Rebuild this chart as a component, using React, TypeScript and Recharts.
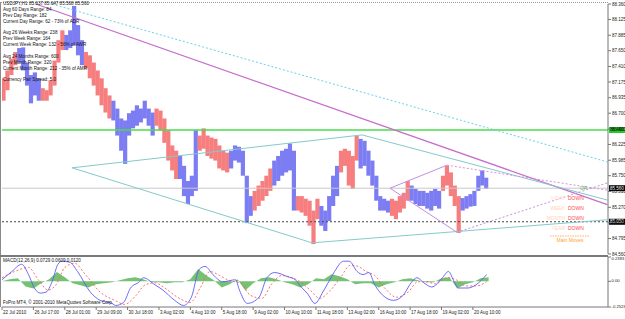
import React from "react";
import {
  Area,
  Bar,
  Cell,
  ComposedChart,
  Line,
  ReferenceLine,
  XAxis,
  YAxis,
} from "recharts";

const FONT = "'Liberation Sans', Arial, sans-serif";
const HOURS = 617.7; // H1 bars that fit across the plot
const RED = "#F67E7E";
const BLUE = "#7D7DF3";

// one column per 4 H1 bars, starting 22 Jul 2010
const barHigh = [
  87.23, 87.35, 87.53, 87.63, 87.69, 87.7, 87.47, 87.28, 87.32, 87.23,
  87.08, 87.05, 87.2, 87.5, 87.81, 87.96, 87.89, 87.96, 88.33, 88.04,
  87.81, 87.63, 87.58, 87.47, 87.35, 87.23, 87.08, 86.97, 86.89, 86.77,
  86.62, 86.59, 86.7, 86.74, 86.82, 86.77, 86.89, 86.77, 86.71, 86.77,
  86.74, 86.62, 86.44, 86.21, 86.13, 86.05, 85.9, 85.67, 85.75, 86.44,
  86.36, 86.47, 86.36, 86.33, 86.31, 86.21, 86.13, 86.1, 86.13, 86.21,
  86.19, 86.13, 85.75, 85.44, 85.52, 85.6, 85.67, 85.75, 85.86, 85.98,
  86.05, 86.13, 86.16, 86.24, 86.13, 85.44, 85.44, 85.4, 85.37, 85.22,
  85.4, 85.29, 85.22, 85.44, 85.75, 85.9, 86.13, 86.16, 86.13, 86.05,
  86.36, 86.31, 86.28, 86.13, 85.98, 85.75, 85.44, 85.4, 85.37, 85.4,
  85.37, 85.44, 85.49, 85.67, 85.6, 85.55, 85.52, 85.52, 85.49, 85.52,
  85.55, 85.52, 85.75, 85.9, 85.8, 85.6, 85.44, 85.41, 85.44, 85.47,
  85.52, 85.75, 85.83, 85.72,
];
const barLow = [
  86.89, 87.05, 87.28, 87.43, 87.47, 87.35, 87.12, 86.85, 86.97, 86.89,
  86.89, 86.89, 86.97, 87.12, 87.47, 87.66, 87.66, 87.69, 87.73, 87.58,
  87.43, 87.38, 87.23, 87.12, 86.97, 86.82, 86.71, 86.62, 86.59, 86.36,
  86.13, 85.93, 86.36, 86.47, 86.51, 86.56, 86.62, 86.51, 86.36, 86.51,
  86.44, 86.25, 85.98, 85.83, 85.7, 85.7, 85.44, 85.32, 85.44, 85.52,
  86.13, 86.16, 86.05, 86.01, 85.98, 85.86, 85.83, 85.8, 85.86, 85.98,
  85.95, 85.75, 85.03, 85.14, 85.22, 85.29, 85.37, 85.44, 85.52, 85.6,
  85.67, 85.75, 85.8, 85.83, 85.22, 85.22, 85.19, 85.14, 84.99, 84.71,
  85.09, 84.99, 84.91, 85.06, 85.29, 85.44, 85.8, 85.9, 85.6, 85.55,
  85.98, 85.86, 85.9, 85.75, 85.6, 85.37, 85.22, 85.22, 85.19, 85.14,
  85.09, 85.19, 85.25, 85.37, 85.37, 85.32, 85.29, 85.29, 85.25, 85.22,
  85.29, 85.25, 85.52, 85.6, 85.44, 85.29, 84.88, 85.22, 85.25, 85.28,
  85.29, 85.52, 85.6, 85.55,
];
// r = falling (red), b = rising (blue)
const barTone =
  "rrrr" + "bbbbbb" + "rrrrrr" + "bbbbb" + "rrrrrrr" + "bbbbbbbbbbb" +
  "rrrrrr" + "bbbbb" + "rrrrrrrr" + "bbbbbb" + "rrrrr" + "bbbbbb" +
  "rrrrrr" + "bbbbb" + "rrrrr" + "bbbbbbbb" + "rrrrr" + "bbbbbbbb" +
  "rrrrr" + "bbbbbbb";

const priceTicks = [
  88.36, 88.125, 87.885, 87.65, 87.41, 87.175, 86.935, 86.7, 86.46, 86.225,
  85.985, 85.75, 85.51, 85.27, 85.035, 84.795, 84.56,
];
const macdTicks = [0.2383, 0, -0.2523];
const timeTicks = [0, 32, 64, 96, 128, 160, 192, 224, 256, 288, 320, 352, 384, 416, 448, 480];
const timeLabels = [
  "22 Jul 2010", "26 Jul 17:00", "28 Jul 01:00", "29 Jul 09:00", "30 Jul 18:00",
  "3 Aug 02:00", "4 Aug 10:00", "5 Aug 18:00", "9 Aug 02:00", "10 Aug 10:00",
  "11 Aug 18:00", "13 Aug 02:00", "16 Aug 10:00", "17 Aug 18:00", "19 Aug 02:00",
  "20 Aug 10:00",
];

// [hour, value]
const macdMain: [number, number][] = [
  [0, 0.015], [10, 0.096], [20, 0.167], [27, 0.066], [33, -0.066], [39, -0.116],
  [45, -0.106], [51, -0.005], [57, 0.167], [61, 0.197], [69, 0.187], [77, 0.096],
  [90, -0.106], [100, -0.187], [112, -0.217], [116, -0.237], [124, -0.207],
  [131, -0.066], [140, -0.005], [144, 0.035], [156, -0.035], [164, -0.086],
  [176, -0.187], [185, -0.237], [193, -0.157], [201, 0.116], [207, 0.146],
  [215, 0.066], [225, -0.005], [238, 0.015], [242, -0.086], [250, -0.217],
  [262, -0.157], [270, 0.035], [278, 0.086], [291, 0.045], [299, 0.015],
  [305, -0.056], [311, -0.116], [319, -0.217], [327, -0.106], [333, -0.005],
  [339, 0.096], [348, 0.197], [354, 0.197], [362, 0.096], [368, 0.066],
  [374, 0.086], [380, -0.035], [388, -0.136], [399, -0.187], [409, -0.136],
  [417, -0.015], [423, 0.035], [430, -0.015], [438, -0.056], [449, 0.035],
  [455, 0.096], [461, -0.005], [465, -0.066], [475, -0.066], [483, -0.035],
  [494, 0.066],
];
const macdSignal: [number, number][] = [
  [0, 0.035], [13, 0.096], [27, 0.136], [37, 0.015], [47, -0.086], [55, -0.035],
  [64, 0.136], [74, 0.177], [85, 0.066], [100, -0.106], [115, -0.187], [125, -0.227],
  [136, -0.146], [146, -0.035], [156, -0.015], [166, -0.066], [179, -0.157],
  [192, -0.207], [202, -0.066], [212, 0.096], [222, 0.056], [232, 0.005],
  [243, -0.015], [253, -0.136], [265, -0.167], [275, -0.025], [285, 0.056],
  [296, 0.035], [304, -0.005], [314, -0.086], [324, -0.167], [334, -0.096],
  [345, 0.035], [355, 0.157], [363, 0.146], [371, 0.096], [380, 0.056],
  [390, -0.066], [402, -0.157], [414, -0.106], [424, -0.005], [432, -0.005],
  [442, -0.025], [453, 0.035], [463, 0.015], [473, -0.046], [483, -0.046],
  [494, -0.005],
];
// histogram, one value every 8 bars
const macdHist = [
  0, 0.02, 0.03, -0.05, -0.07, -0.02, 0.02, 0.09, 0.04, -0.02,
  -0.04, -0.06, -0.03, -0.02, -0.01, 0.01, 0.03, 0.04, 0.02, -0.01,
  -0.01, -0.02, -0.01, -0.01, 0.02, 0.12, 0.06, 0.01, -0.06, -0.03,
  0.02, -0.09, -0.02, 0.03, 0.04, 0.02, -0.01, -0.03, -0.06, -0.03,
  0.03, 0.02, 0.07, 0.05, 0.02, -0.03, -0.02, -0.02, -0.06, -0.03,
  -0.01, 0.02, 0.03, 0.01, -0.01, -0.01, 0.03, 0.04, -0.07, -0.03,
  -0.01, 0.03, 0.04,
];

// trend lines drawn on the chart: [hour, price] -> [hour, price]
const trendLines = [
  { a: [34.4, 88.36], b: [617, 85.31], color: "#C66CCC", dash: undefined, w: 1.2 },
  { a: [51, 88.36], b: [617, 85.96], color: "#66D2EA", dash: "2 2", w: 1 },
  { a: [71.4, 85.87], b: [367, 86.37], color: "#84CACA", dash: undefined, w: 1 },
  { a: [367, 86.37], b: [617, 85.38], color: "#84CACA", dash: undefined, w: 1 },
  { a: [71.4, 85.87], b: [316, 84.73], color: "#84CACA", dash: undefined, w: 1 },
  { a: [316, 84.73], b: [617, 85.08], color: "#84CACA", dash: undefined, w: 1 },
  { a: [395.5, 85.56], b: [453.6, 85.91], color: "#C48EE2", dash: undefined, w: 1 },
  { a: [395.5, 85.56], b: [463.8, 84.89], color: "#C48EE2", dash: undefined, w: 1 },
  { a: [453.6, 85.91], b: [617, 85.53], color: "#D890D8", dash: "2 2", w: 1 },
  { a: [463.8, 84.89], b: [617, 85.64], color: "#C890E0", dash: "2 2", w: 1 },
];

const levelGreen = 86.445;
const levelBid = 85.56;
const levelDotted = 85.05;

const infoLines: [number, string][] = [
  [4, "USDJPY,H1 85.637 85.647 85.568 85.560"],
  [10, "Avg 60 Days Range: 84"],
  [16, "Prev Day Range: 182"],
  [22, "Current Day Range: 62 - 73% of ADR"],
  [33, "Avg 26 Weeks Range: 238"],
  [39, "Prev Week Range: 164"],
  [45, "Current Week Range: 132 - 56% of AWR"],
  [57, "Avg 24 Months Range: 600"],
  [63, "Prev Month Range: 320"],
  [69, "Current Month Range: 212 - 35% of AMR"],
  [80, "Currency Pair Spread: 5.0"],
];
const moveRows: [number, string][] = [
  [199, "Y-DAY"],
  [209, "WEEK"],
  [219, "MONTH"],
  [229, "YEAR"],
];

function AxisTag(props: any) {
  const { viewBox, text, bg, fg } = props;
  if (!viewBox) return null;
  const x = viewBox.x + viewBox.width;
  const y = viewBox.y;
  return (
    <g>
      <rect x={x + 1} y={y - 3} width={16} height={6} fill={bg} />
      <text
        x={x + 2}
        y={y + 0.2}
        fontSize={4.5}
        fontFamily={FONT}
        fill={fg}
        dominantBaseline="middle"
      >
        {text}
      </text>
    </g>
  );
}

function TimeTick(props: any) {
  const { x, y, payload } = props;
  const label = timeLabels[timeTicks.indexOf(payload.value)];
  return (
    <text x={x + 1} y={y + 1} fontSize={4.5} fontFamily={FONT} fill="#222" dominantBaseline="middle">
      {label}
    </text>
  );
}

// MACD scale labels sit just inside the panel edges, like the terminal draws them
function MacdTick(props: any) {
  const { x, y, payload } = props;
  const v = payload.value as number;
  const dy = v > 0 ? 1.8 : v < 0 ? -0.5 : 0;
  return (
    <text x={x} y={y + dy} fontSize={4.2} fontFamily={FONT} fill="#222" dominantBaseline="middle">
      {v === 0 ? "0.00" : v.toFixed(4)}
    </text>
  );
}

// high-low column, a touch wider than its slot so neighbours join up
function HiLoBar(props: any) {
  const { x, y, width, height, fill } = props;
  if (height == null || !isFinite(height)) return null;
  const cx = x + width / 2;
  return <rect x={cx - 2.1} y={y} width={4.2} height={Math.max(height, 1)} fill={fill} />;
}

export default function App() {
  const bars = barHigh.map((hi, i) => ({ h: i * 4 + 2, hi, lo: barLow[i], tone: barTone[i] }));
  const hist = macdHist.map((v, i) => ({ h: i * 8, v }));
  const main = macdMain.map(([h, v]) => ({ h, v }));
  const signal = macdSignal.map(([h, v]) => ({ h, v }));
  const tick = { fontSize: 4.5, fill: "#222", fontFamily: FONT };

  return (
    <div
      style={{
        position: "relative",
        width: 625,
        height: 319,
        background: "#fff",
        overflow: "hidden",
        fontFamily: FONT,
      }}
    >
      <style>{"body{margin:0}"}</style>
      {/* panel frames */}
      <div
        style={{
          position: "absolute",
          left: 0,
          top: 2,
          width: 608,
          height: 253,
          borderLeft: "1px solid #8a8a8a",
          borderTop: "1px dotted #9a9a9a",
          boxSizing: "border-box",
        }}
      />
      <div style={{ position: "absolute", left: 0, top: 255, width: 608, height: 2, background: "#7a7a7a" }} />
      <div style={{ position: "absolute", left: 0, top: 257, width: 1, height: 50, background: "#8a8a8a" }} />

      <div style={{ position: "absolute", left: 0, top: 0 }}>
        <ComposedChart
          width={625}
          height={257}
          data={bars}
          barCategoryGap={0}
          margin={{ top: 4, right: 0, bottom: 3, left: 2 }}
        >
          <XAxis dataKey="h" type="number" domain={[0, HOURS]} allowDataOverflow hide />
          <YAxis
            orientation="right"
            width={17}
            domain={[84.56, 88.36]}
            allowDataOverflow
            ticks={priceTicks}
            interval={0}
            tickFormatter={(v: number) => v.toFixed(3)}
            tick={tick}
            tickSize={3}
            tickMargin={1}
            axisLine={{ stroke: "#777" }}
            tickLine={{ stroke: "#777" }}
          />
          <Bar
            dataKey={(d: any) => [d.lo, d.hi]}
            barSize={3}
            shape={<HiLoBar />}
            isAnimationActive={false}
          >
            {bars.map((b, i) => (
              <Cell key={i} fill={b.tone === "b" ? BLUE : RED} />
            ))}
          </Bar>
          <ReferenceLine
            y={levelBid}
            stroke="#c8c8c8"
            label={<AxisTag text="85.560" bg="#000" fg="#fff" />}
          />
          <ReferenceLine
            y={levelDotted}
            stroke="#444"
            strokeDasharray="2 2"
            label={<AxisTag text="85.050" bg="#000" fg="#fff" />}
          />
          <ReferenceLine
            y={levelGreen}
            stroke="#4ADD4A"
            strokeWidth={1.4}
            label={<AxisTag text="86.450" bg="#22CC22" fg="#000" />}
          />
          {trendLines.map((t, i) => (
            <ReferenceLine
              key={i}
              segment={[
                { x: t.a[0], y: t.a[1] },
                { x: t.b[0], y: t.b[1] },
              ]}
              stroke={t.color}
              strokeWidth={t.w}
              strokeDasharray={t.dash}
              ifOverflow="visible"
            />
          ))}
        </ComposedChart>
      </div>

      <div style={{ position: "absolute", left: 0, top: 254 }}>
        <ComposedChart width={625} height={65} data={hist} margin={{ top: 3, right: 0, bottom: 0, left: 2 }}>
          <XAxis
            dataKey="h"
            type="number"
            domain={[0, HOURS]}
            allowDataOverflow
            ticks={timeTicks}
            interval={0}
            height={12}
            tickSize={3}
            tickMargin={2}
            tick={<TimeTick />}
            axisLine={{ stroke: "#777" }}
            tickLine={{ stroke: "#777" }}
          />
          <YAxis
            orientation="right"
            width={17}
            domain={[-0.2523, 0.2383]}
            allowDataOverflow
            ticks={macdTicks}
            interval={0}
            tick={<MacdTick />}
            tickSize={3}
            tickMargin={0.5}
            axisLine={{ stroke: "#777" }}
            tickLine={{ stroke: "#777" }}
          />
          <Area
            dataKey="v"
            type="linear"
            baseValue={0}
            fill="#66BB66"
            fillOpacity={0.9}
            stroke="none"
            isAnimationActive={false}
          />
          <Line
            data={signal}
            dataKey="v"
            type="monotone"
            stroke="#FF6060"
            strokeWidth={0.9}
            strokeDasharray="2 2"
            dot={false}
            isAnimationActive={false}
          />
          <Line
            data={main}
            dataKey="v"
            type="monotone"
            stroke="#5C5CF6"
            strokeWidth={0.9}
            dot={false}
            isAnimationActive={false}
          />
        </ComposedChart>
      </div>

      {/* indicator texts */}
      <svg
        width={625}
        height={319}
        style={{ position: "absolute", left: 0, top: 0, pointerEvents: "none" }}
      >
        {infoLines.map(([y, s]) => (
          <text key={s} x={3} y={y} fontSize={4.6} fontFamily={FONT} fill="#111" dominantBaseline="middle">
            {s}
          </text>
        ))}
        <text x={587} y={189} fontSize={5} fontFamily={FONT} fill="#44BB44" textAnchor="end" dominantBaseline="middle">
          UP
        </text>
        {moveRows.map(([y, s]) => (
          <g key={s}>
            <text x={565} y={y} fontSize={5} fontFamily={FONT} fill="#FFD2BC" textAnchor="end" dominantBaseline="middle">
              {s}
            </text>
            <text x={568} y={y} fontSize={5} fontFamily={FONT} fill="#FF4A4A" dominantBaseline="middle">
              DOWN
            </text>
          </g>
        ))}
        <line x1={550} x2={590} y1={236} y2={236} stroke="#FFA040" strokeDasharray="1.5 1" strokeWidth={0.8} />
        <text x={570} y={240.5} fontSize={5} fontFamily={FONT} fill="#FFA030" textAnchor="middle" dominantBaseline="middle">
          Main Moves
        </text>
        <text x={3} y={261} fontSize={4.6} fontFamily={FONT} fill="#111" dominantBaseline="middle">
          MACD(12,26,9) 0.0729 0.0609 0.0120
        </text>
        <text x={3} y={303} fontSize={4.6} fontFamily={FONT} fill="#111" dominantBaseline="middle">
          FxPro MT4, © 2001-2010 MetaQuotes Software Corp.
        </text>
      </svg>
    </div>
  );
}
